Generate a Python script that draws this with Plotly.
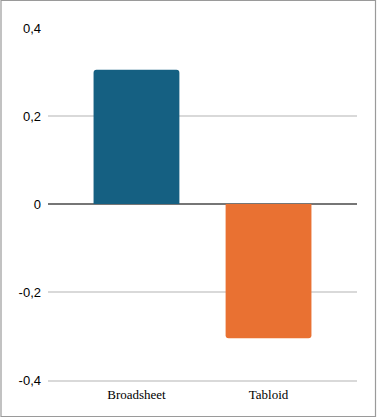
import plotly.graph_objects as go

categories = ["Broadsheet", "Tabloid"]
values = [0.305, -0.305]
bar_colors = ["#156082", "#E97132"]
tick_vals = [0.4, 0.2, 0, -0.2, -0.4]
tick_text = ["0,4", "0,2", "0", "-0,2", "-0,4"]

W, H = 378, 420
ml, mr, mt, mb = 48, 21, 28, 40
pw, ph = W - ml - mr, H - mt - mb

fig = go.Figure(go.Bar(
    x=categories, y=values, width=0.65,
    marker=dict(color=bar_colors, line=dict(width=0), cornerradius=3),
    hoverinfo="x+y",
))

def px2x(p):
    return (p - ml) / pw

def px2y(p):
    return 1 - (p - mt) / ph

fig.add_shape(type="rect", xref="paper", yref="paper",
              x0=px2x(1), x1=px2x(375.5), y0=px2y(416.5), y1=px2y(0.5),
              line=dict(color="#9a9a9a", width=1.2), layer="below")

fig.update_layout(
    width=W, height=H,
    margin=dict(l=ml, r=mr, t=mt, b=mb),
    paper_bgcolor="white", plot_bgcolor="white",
    showlegend=False,
    font=dict(family="Liberation Serif", size=13, color="#000000"),
    xaxis=dict(range=[-0.67, 1.67], showgrid=False, zeroline=False, showline=True,
               linecolor="#d9d9d9", linewidth=1.5,
               ticks="", tickfont=dict(family="Liberation Serif", size=13, color="#000000"),
               ticklabelstandoff=2),
    yaxis=dict(range=[-0.4, 0.4], tickvals=tick_vals, ticktext=tick_text,
               showgrid=True, gridcolor="#d9d9d9", gridwidth=1.5,
               zeroline=True, zerolinecolor="#767676", zerolinewidth=1.8,
               showline=False, ticks="", ticklabelstandoff=6,
               tickfont=dict(family="Liberation Sans", size=13, color="#000000")),
)

fig.write_html("out.html", config={"displayModeBar": False},
               post_script="document.body.style.margin='0';document.body.style.overflow='hidden';")
